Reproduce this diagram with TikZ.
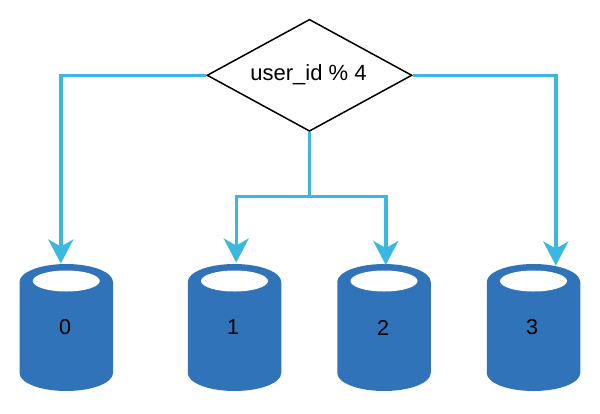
\documentclass[tikz,border=0pt]{standalone}
\usepackage{fontspec}
\setmainfont{Liberation Sans}
\usetikzlibrary{shapes.geometric,arrows.meta}
\definecolor{wire}{HTML}{3BB8E0}
\definecolor{dbblue}{HTML}{3073B9}
\tikzset{
  x=1pt,y=-1pt,
  decision/.style={diamond,draw=black,line width=1.5pt,fill=white,aspect=1.83,inner sep=0pt,minimum width=205pt,minimum height=112pt,text=black},
  dblabel/.style={inner sep=0pt,font=\fontsize{21.5}{24}\selectfont,text=black},
  hashlabel/.style={inner sep=0pt,font=\fontsize{22}{26}\selectfont,text=black},
  link/.style={draw=wire,line width=3.4pt},
  linkarrow/.style={link,-{Stealth[length=24pt,width=25pt,inset=7pt]}},
  dbbody/.style={fill=dbblue,draw=none},
  dbhole/.style={fill=white,draw=none}
}
\newcommand{\dbdraw}[2]{%
  \begin{scope}
  \clip (#1-50,260) rectangle (#1+50,#2);
  \path[dbbody] (#1-46.75,282)
     arc[start angle=180,end angle=360,x radius=46.75,y radius=18]
     -- (#1+46.75,373)
     arc[start angle=0,end angle=180,x radius=46.75,y radius=18]
     -- cycle;
  \path[dbhole] (#1,281) ellipse[x radius=33.5,y radius=10.5];
  \end{scope}
}
\begin{document}
\begin{tikzpicture}
\useasboundingbox (0,0) rectangle (600,413);
\dbdraw{66.25}{391}
\dbdraw{234.5}{390}
\dbdraw{384}{390}
\dbdraw{533.5}{391}
\node[decision] (hash) at (309.5,75.3) {};
\node[hashlabel] (hashtext) at (308.5,75) {user\_id \% 4};
\node[dblabel] (n0) at (65,327.5) {0};
\node[dblabel] (n1) at (233,327.5) {1};
\node[dblabel] (n2) at (383,327.5) {2};
\node[dblabel] (n3) at (532,327.5) {3};
\coordinate (t0) at (60.8,263.5);
\coordinate (t1) at (236.2,262.5);
\coordinate (t2) at (385.8,265);
\coordinate (t3) at (555.8,265.5);
\coordinate (split) at (309.5,196.3);
\draw[linkarrow] (hash.west) -| (t0);
\draw[linkarrow] (hash.east) -| (t3);
\draw[link] (hash.south) -- (split);
\draw[linkarrow] (split) -| (t1);
\draw[linkarrow] (split) -| (t2);
\end{tikzpicture}
\end{document}
